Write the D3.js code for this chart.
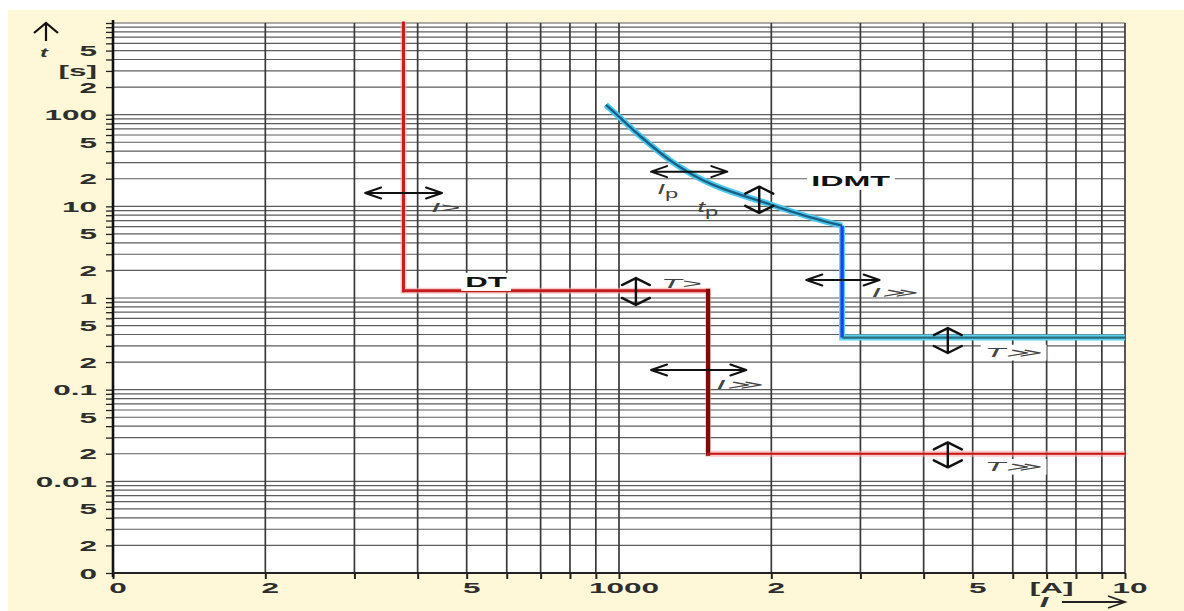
<!DOCTYPE html>
<html>
<head>
<meta charset="utf-8">
<script src="https://cdn.jsdelivr.net/npm/d3@7/dist/d3.min.js"></script>
<style>
  body { margin: 0; background: #fff; }
</style>
</head>
<body>
<svg id="chart" width="1184" height="611"></svg>
<script>
////////// Dados

// eixo das correntes (A) e eixo dos tempos (s)
const currentTicks = [100, 200, 500, 1000, 2000, 5000, 7000, 10000];
const currentTickLabels = ['0', '2', '5', '1000', '2', '5', '[A]', '10'];
const timeTicks = [0.001, 0.002, 0.005, 0.01, 0.02, 0.05, 0.1, 0.2, 0.5, 1, 2, 5, 10, 20, 50, 100, 200, 300, 500];
const timeTickLabels = ['0', '2', '5', '0.01', '2', '5', '0.1', '2', '5', '1', '2', '5', '10', '2', '5', '100', '2', '[s]', '5'];

// curva de tempo definido (DT): [corrente, tempo]
const dtCurve = [[375, 1000], [375, 1.2], [1500, 1.2], [1500, 0.02], [10000, 0.02]];

// curva de tempo inverso (IDMT)
const idmtCurve = [[942, 128], [1000, 95], [1095, 60], [1273, 30.7], [1376, 23.3], [2000, 10.4], [2410, 7.5], [2760, 6.15]];
const idmtSteps = [[2760, 6.15], [2760, 0.37], [10000, 0.37]];

// setas de ajuste
const hArrows = [
  {t: 14, i1: 315, i2: 447},
  {t: 23.9, i1: 1157, i2: 1637},
  {t: 0.164, i1: 1157, i2: 1785},
  {t: 1.57, i1: 2345, i2: 3273}
];
const vArrows = [
  {i: 1080, t1: 1.65, t2: 0.84},
  {i: 1893, t1: 16.4, t2: 8.5},
  {i: 4465, t1: 0.47, t2: 0.251},
  {i: 4465, t1: 0.0266, t2: 0.0142}
];

// rótulos dos ajustes
const annotLabels = [
  {text: 'I>', sub: '', i: 425, t: 8.7},
  {text: 'T>', sub: '', i: 1211, t: 1.29},
  {text: 'I', sub: 'p', i: 1190, t: 13.6},
  {text: 't', sub: 'p', i: 1427, t: 8.7},
  {text: 'I≫', sub: '', i: 1556, t: 0.102},
  {text: 'I≫', sub: '', i: 3155, t: 1.03},
  {text: 'T≫', sub: '', i: 5283, t: 0.227},
  {text: 'T≫', sub: '', i: 5283, t: 0.0129}
];
const curveNames = [
  {text: 'DT', i: 546, t: 1.32},
  {text: 'IDMT', i: 2398, t: 16.7}
];

////////// Escalas

const W = 1184, H = 611;
const plot = {left: 113, right: 1125, top: 23, bottom: 573};

const x = d3.scaleLog().domain([100, 10000]).range([plot.left, plot.right]);
const y = d3.scaleLog().domain([0.001, 1000]).range([plot.bottom, plot.top]);

const FONT = '"Liberation Sans", Arial, sans-serif';

const svg = d3.select('#chart');

// fundo creme e área branca
svg.append('rect')
  .attr('x', 8).attr('y', 10)
  .attr('width', W - 8).attr('height', H - 10)
  .attr('fill', '#fef8d8');

svg.append('rect')
  .attr('x', plot.left).attr('y', plot.top)
  .attr('width', plot.right - plot.left).attr('height', plot.bottom - plot.top)
  .attr('fill', '#fff');

////////// Grade

const grid = svg.append('g');

grid.selectAll('line.h')
  .data(y.ticks())
  .join('line')
  .attr('class', 'h')
  .attr('x1', plot.left).attr('x2', plot.right)
  .attr('y1', d => y(d)).attr('y2', d => y(d))
  .attr('stroke', '#5c5c5c')
  .attr('stroke-width', 1.2);

grid.selectAll('line.v')
  .data(x.ticks())
  .join('line')
  .attr('class', 'v')
  .attr('y1', plot.top).attr('y2', plot.bottom)
  .attr('x1', d => x(d)).attr('x2', d => x(d))
  .attr('stroke', '#3a3a3a')
  .attr('stroke-width', 1.7);

// marcas dos eixos
svg.append('g')
  .attr('transform', `translate(${plot.left},0)`)
  .call(d3.axisLeft(y).tickValues(y.ticks()).tickFormat('').tickSize(7).tickSizeOuter(0))
  .call(g => g.select('.domain').remove())
  .call(g => g.selectAll('line').attr('stroke', '#222').attr('stroke-width', 1.3));

svg.append('g')
  .attr('transform', `translate(0,${plot.bottom})`)
  .call(d3.axisBottom(x).tickValues(x.ticks()).tickFormat('').tickSize(6).tickSizeOuter(0))
  .call(g => g.select('.domain').remove())
  .call(g => g.selectAll('line').attr('stroke', '#222').attr('stroke-width', 2));

svg.append('line')
  .attr('x1', plot.left).attr('x2', plot.left)
  .attr('y1', plot.top - 3).attr('y2', plot.bottom + 4)
  .attr('stroke', '#111').attr('stroke-width', 2.6);

svg.append('line')
  .attr('x1', plot.left).attr('x2', plot.right)
  .attr('y1', plot.bottom).attr('y2', plot.bottom)
  .attr('stroke', '#222').attr('stroke-width', 2);

////////// Textos esticados (a figura original é larga)

function addText(parent, px, py, str, o) {
  const g = parent.append('g');
  const t = g.append('text')
    .attr('transform', `translate(${px},${py}) scale(${o.sx},1)`)
    .attr('font-family', FONT)
    .attr('font-size', o.size)
    .attr('font-weight', o.weight || 'normal')
    .attr('font-style', o.style || 'normal')
    .attr('fill', o.fill || '#333')
    .attr('text-anchor', o.anchor || 'start')
    .text(str);
  if (o.sub) {
    t.append('tspan')
      .attr('font-size', o.size * 0.85)
      .attr('font-style', 'normal')
      .attr('dy', 4)
      .text(o.sub);
  }
  if (o.box) {
    const b = g.node().getBBox();
    g.insert('rect', 'text')
      .attr('x', b.x - 4).attr('y', b.y - 1)
      .attr('width', b.width + 8).attr('height', b.height + 2)
      .attr('fill', '#fff');
  }
  return g;
}

const labelsLayer = svg.append('g');

// rótulos do eixo x
currentTicks.forEach((v, i) => {
  addText(labelsLayer, x(v) + 5, 593, currentTickLabels[i],
    {sx: 2.1, size: 15, weight: 'bold', anchor: 'middle', fill: '#2e2e2e'});
});

// rótulos do eixo y
timeTicks.forEach((v, i) => {
  addText(labelsLayer, 97, y(v) + 5.5, timeTickLabels[i],
    {sx: 2.1, size: 15, weight: 'bold', anchor: 'end', fill: '#2e2e2e'});
});

// seta e símbolo t
svg.append('path')
  .attr('d', 'M46,41 L46,24 M34,33 L46,23 L58,33')
  .attr('fill', 'none').attr('stroke', '#111').attr('stroke-width', 2.2);
addText(labelsLayer, 44, 57, 't', {sx: 1.8, size: 13, style: 'italic', weight: 'bold', fill: '#333', anchor: 'middle'});

// símbolo I e seta
addText(labelsLayer, 1044, 607, 'I', {sx: 2.2, size: 14, style: 'italic', weight: 'bold', fill: '#333', anchor: 'middle'});
svg.append('path')
  .attr('d', 'M1062,602 L1124,602 M1108,596 L1125,602 L1108,608')
  .attr('fill', 'none').attr('stroke', '#222').attr('stroke-width', 1.8);

////////// Curvas

const line = d3.line().x(d => x(d[0])).y(d => y(d[1]));
const curves = svg.append('g').attr('fill', 'none');

// DT: brilho rosa e traço vermelho
curves.append('path')
  .attr('d', line(dtCurve))
  .attr('stroke', '#f3a9a9').attr('stroke-width', 6).attr('opacity', 0.6);

const dtSegStroke = ['#c41d1d', '#c41d1d', '#7c0b0b', '#c81414'];
const dtSegWidth = [3, 3, 4.2, 2.2];
d3.pairs(dtCurve).forEach((seg, i) => {
  curves.append('path')
    .attr('d', line(seg))
    .attr('stroke', dtSegStroke[i])
    .attr('stroke-width', dtSegWidth[i])
    .attr('stroke-linecap', 'square');
});

// IDMT
const smooth = d3.line().x(d => x(d[0])).y(d => y(d[1])).curve(d3.curveMonotoneX);

curves.append('path')
  .attr('d', smooth(idmtCurve))
  .attr('stroke', '#4cc8ee').attr('stroke-width', 6);
curves.append('path')
  .attr('d', line(idmtSteps))
  .attr('stroke', '#5fd3f2').attr('stroke-width', 6);

curves.append('path')
  .attr('d', smooth(idmtCurve))
  .attr('stroke', '#1a5f86').attr('stroke-width', 2.4);

const idmtSegStroke = ['#1246f0', '#2a6c7c'];
const idmtSegWidth = [3.4, 2.2];
d3.pairs(idmtSteps).forEach((seg, i) => {
  curves.append('path')
    .attr('d', line(seg))
    .attr('stroke', idmtSegStroke[i])
    .attr('stroke-width', idmtSegWidth[i]);
});

////////// Setas de ajuste

const arrows = svg.append('g')
  .attr('fill', 'none').attr('stroke', '#111')
  .attr('stroke-width', 2).attr('stroke-linejoin', 'round').attr('stroke-linecap', 'round');

arrows.selectAll('path.h')
  .data(hArrows)
  .join('path')
  .attr('class', 'h')
  .attr('d', d => {
    const a = x(d.i1), b = x(d.i2), yy = y(d.t);
    return `M${a},${yy}L${b},${yy}M${a + 16},${yy - 5.5}L${a},${yy}L${a + 16},${yy + 5.5}` +
      `M${b - 16},${yy - 5.5}L${b},${yy}L${b - 16},${yy + 5.5}`;
  });

arrows.selectAll('path.v')
  .data(vArrows)
  .join('path')
  .attr('class', 'v')
  .attr('stroke-width', 2.4)
  .attr('d', d => {
    const xx = x(d.i), a = y(d.t1), b = y(d.t2);
    return `M${xx},${a}L${xx},${b}M${xx - 14},${a + 7}L${xx},${a}L${xx + 14},${a + 7}` +
      `M${xx - 14},${b - 7}L${xx},${b}L${xx + 14},${b - 7}`;
  });

////////// Rótulos

annotLabels.forEach(d => {
  addText(labelsLayer.raise(), x(d.i), y(d.t), d.text, {
    sx: d.sub ? 2.0 : 2.7, size: d.sub ? 14 : 12.5, style: 'italic', fill: '#444',
    sub: d.sub, box: d.text.startsWith('T≫')
  });
});

curveNames.forEach(d => {
  addText(labelsLayer, x(d.i), y(d.t), d.text, {
    sx: 2.15, size: d.text === 'DT' ? 14.5 : 15, weight: 'bold', fill: '#111',
    anchor: d.text === 'DT' ? 'middle' : 'start', box: true
  });
});
</script>
</body>
</html>
